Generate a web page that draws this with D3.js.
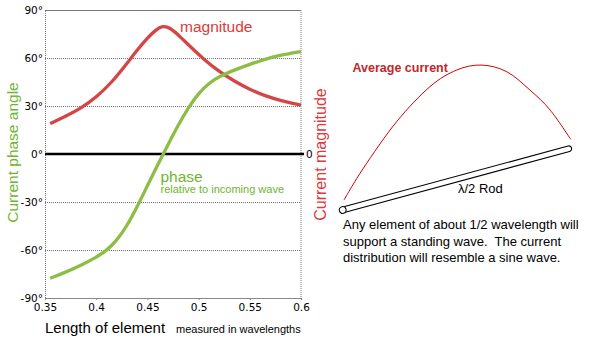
<!DOCTYPE html>
<html>
<head>
<meta charset="utf-8">
<script src="https://cdn.jsdelivr.net/npm/d3@7"></script>
<style>
  body { margin: 0; background: #fff; }
  svg { display: block; }
  text { font-family: "Liberation Sans", Arial, sans-serif; }
</style>
</head>
<body>
<div id="chart"></div>
<script>
// element length in wavelengths, and the two curves
const magLengths = [0.355, 0.37, 0.385, 0.4, 0.415, 0.43, 0.44, 0.45, 0.458, 0.465, 0.472, 0.48, 0.49, 0.505, 0.52, 0.535, 0.55, 0.565, 0.58, 0.6];
// current magnitude (plotted on the degree scale)
const magnitude  = [19, 23.5, 28.5, 35.5, 44.5, 56.5, 65, 72.5, 77.5, 80.2, 79, 74.5, 68.3, 59.2, 51.5, 45.5, 40.3, 36.3, 33.4, 30.6];

const phaseLengths = [0.355, 0.37, 0.385, 0.4, 0.41, 0.42, 0.43, 0.44, 0.45, 0.46, 0.47, 0.48, 0.49, 0.5, 0.51, 0.52, 0.535, 0.55, 0.565, 0.58, 0.6];
// current phase angle, degrees
const phase        = [-77.7, -73.9, -69.6, -64.6, -60.4, -54.2, -45, -33, -19.8, -6.8, 5.7, 18, 29, 38, 44.3, 48.5, 52.5, 56.1, 59.2, 61.8, 64];

const xTicks = [0.35, 0.4, 0.45, 0.5, 0.55, 0.6];
const yTicks = [-90, -60, -30, 0, 30, 60, 90];

// half-wave rod sketch: position along rod (0..1) and current height
const arcPos    = [0, 0.085, 0.232, 0.379, 0.497, 0.607, 0.718, 0.82, 0.909, 1];
const arcHeight = [0, 26.5, 64.2, 90.3, 99.8, 98.1, 84.7, 60.2, 34.9, 0];

const noteLines = [
  "Any element of about 1/2 wavelength will",
  "support a standing wave.  The current",
  "distribution will resemble a sine wave."
];

const W = 594, H = 343;
const svg = d3.select("#chart").append("svg")
  .attr("width", W)
  .attr("height", H);

const x = d3.scaleLinear().domain([0.35, 0.6]).range([45, 301]);
const y = d3.scaleLinear().domain([-90, 90]).range([298, 10]);

const red = "#d44646", green = "#8cbd45";
const redText = "#dd3a3a", greenText = "#6fb430";

// gridlines + left axis
const yAxis = svg.append("g")
  .attr("transform", "translate(45,0)")
  .call(d3.axisLeft(y).tickValues(yTicks).tickSize(-(x.range()[1] - x.range()[0]))
    .tickFormat(d => d + "°"));
yAxis.select(".domain").attr("stroke", "#777").attr("stroke-dasharray", "1,1");
yAxis.selectAll(".tick line").attr("stroke", "#777").attr("stroke-dasharray", "1,1");
yAxis.selectAll(".tick text")
  .attr("x", -2)
  .attr("fill", "#000")
  .style("font-family", "'DejaVu Sans', Verdana, sans-serif")
  .style("font-size", "10.5px");
yAxis.selectAll(".tick").filter(d => d === 0).select("line").remove();

// right frame
svg.append("line")
  .attr("x1", x(0.6)).attr("x2", x(0.6))
  .attr("y1", y(90)).attr("y2", y(-90))
  .attr("stroke", "#777").attr("stroke-dasharray", "1,1");

// bottom axis
const xAxis = svg.append("g")
  .attr("transform", `translate(0,${y(-90)})`)
  .call(d3.axisBottom(x).tickValues(xTicks).tickSize(2).tickFormat(d => d));
xAxis.select(".domain").attr("stroke", "#888");
xAxis.selectAll(".tick line").attr("stroke", "#888");
xAxis.selectAll(".tick text")
  .attr("y", 6)
  .attr("fill", "#000")
  .style("font-family", "'DejaVu Sans', Verdana, sans-serif")
  .style("font-size", "10.5px");

// zero line
svg.append("line")
  .attr("x1", x(0.35)).attr("x2", x(0.6) + 3)
  .attr("y1", y(0)).attr("y2", y(0))
  .attr("stroke", "#000").attr("stroke-width", 2.5);

// right axis: single 0 tick
svg.append("text")
  .attr("x", x(0.6) + 5).attr("y", y(0))
  .attr("dy", "0.36em")
  .style("font-family", "'DejaVu Sans', Verdana, sans-serif")
  .style("font-size", "10.5px")
  .text("0");

// curves (smoothed through the read points)
const line = d3.line().curve(d3.curveBasis);
svg.append("path")
  .attr("d", line(magLengths.map((l, i) => [x(l), y(magnitude[i])])))
  .attr("fill", "none").attr("stroke", red).attr("stroke-width", 3.3);
svg.append("path")
  .attr("d", line(phaseLengths.map((l, i) => [x(l), y(phase[i])])))
  .attr("fill", "none").attr("stroke", green).attr("stroke-width", 3.3);

// labels in plot
svg.append("text").attr("x", 180).attr("y", 31.5)
  .attr("fill", redText).style("font-size", "15.5px").text("magnitude");
svg.append("text").attr("x", 160.5).attr("y", 181.5)
  .attr("fill", greenText).style("font-size", "15.5px").text("phase");
svg.append("text").attr("x", 160.5).attr("y", 193)
  .attr("fill", greenText).style("font-size", "11px").text("relative to incoming wave");

// axis titles
svg.append("text")
  .attr("transform", `translate(18,152.5) rotate(-90)`)
  .attr("text-anchor", "middle")
  .attr("fill", greenText).style("font-size", "15.5px")
  .text("Current phase angle");
svg.append("text")
  .attr("transform", `translate(326,154.5) rotate(-90)`)
  .attr("text-anchor", "middle")
  .attr("fill", redText).style("font-size", "16px")
  .text("Current magnitude");
svg.append("text").attr("x", 45).attr("y", 332.5)
  .style("font-size", "15px").text("Length of element");
svg.append("text").attr("x", 176).attr("y", 332.5)
  .style("font-size", "11px").text("measured in wavelengths");

// ---- rod sketch ----
const rodStart = [342.7, 210], rodEnd = [571.5, 148];
const rodAng = Math.atan2(rodEnd[1] - rodStart[1], rodEnd[0] - rodStart[0]) * 180 / Math.PI;
const rodLen = Math.hypot(rodEnd[0] - rodStart[0], rodEnd[1] - rodStart[1]);

// arc: along rod from (344,200) to (570.7,139.3), height above that baseline
const ax = d3.scaleLinear().domain([0, 1]).range([344, 570.7]);
const ab = d3.scaleLinear().domain([0, 1]).range([200, 139.3]);
svg.append("path")
  .attr("d", d3.line().curve(d3.curveCardinal)(arcPos.map((t, i) => [ax(t), ab(t) - arcHeight[i]])))
  .attr("fill", "none").attr("stroke", "#d00000").attr("stroke-width", 1);

const rod = svg.append("g")
  .attr("transform", `translate(${rodStart[0]},${rodStart[1]}) rotate(${rodAng})`);
rod.append("rect")
  .attr("x", 0).attr("y", -2.8)
  .attr("width", rodLen).attr("height", 5.6)
  .attr("rx", 2.8)
  .attr("fill", "#fff").attr("stroke", "#000").attr("stroke-width", 1.1);
rod.append("circle")
  .attr("r", 3.4)
  .attr("fill", "#fff").attr("stroke", "#000").attr("stroke-width", 1.1);

svg.append("text").attr("x", 352.5).attr("y", 72)
  .attr("fill", "#c0282d").style("font-size", "12.5px").style("font-weight", "bold")
  .text("Average current");
svg.append("text").attr("x", 458).attr("y", 193)
  .style("font-size", "13px").text("λ/2 Rod");

svg.append("g").selectAll("text")
  .data(noteLines)
  .join("text")
  .attr("x", 343)
  .attr("y", (d, i) => 229 + i * 16.5)
  .style("font-size", "13px")
  .style("white-space", "pre")
  .text(d => d);
</script>
</body>
</html>
